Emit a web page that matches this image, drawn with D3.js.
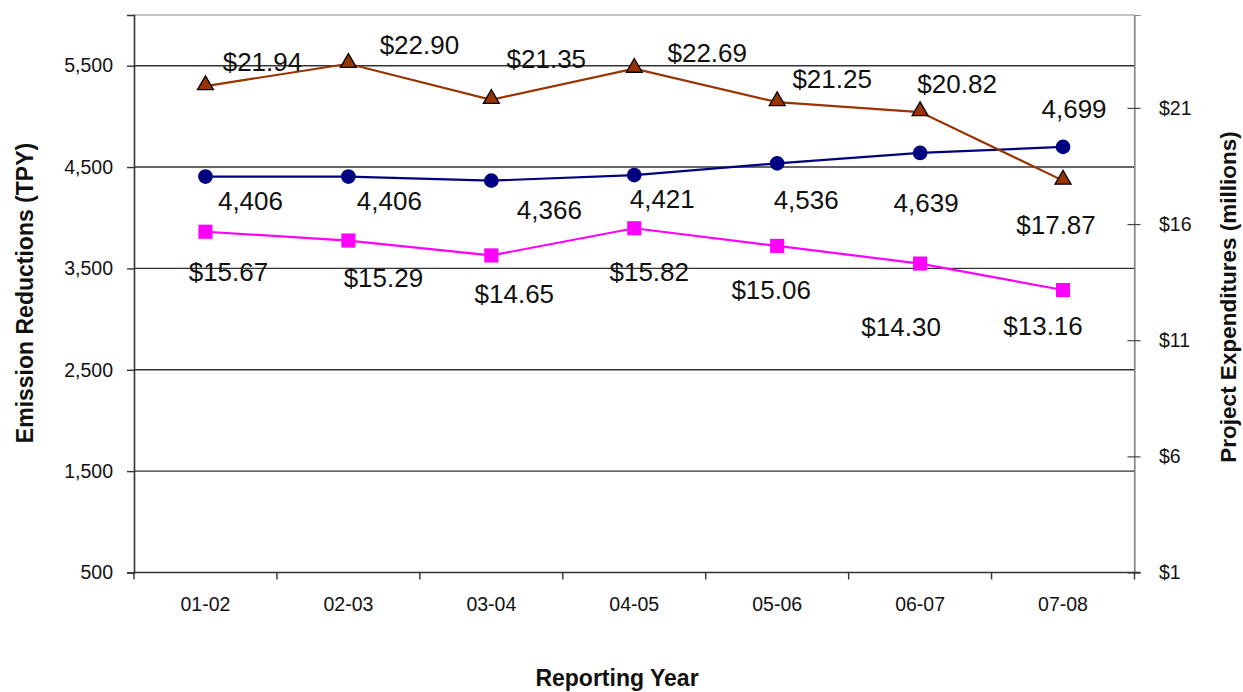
<!DOCTYPE html>
<html><head><meta charset="utf-8">
<script src="https://cdn.jsdelivr.net/npm/d3@7"></script>
<style>body{margin:0;background:#fff;} svg{display:block;font-family:"Liberation Sans",Arial,sans-serif;}</style>
</head><body>
<svg id="c" width="1243" height="692"></svg>
<script>
const categories = ["01-02","02-03","03-04","04-05","05-06","06-07","07-08"];
const emissions = [4406,4406,4366,4421,4536,4639,4699];           // left axis (TPY)
const expendHigh = [21.94,22.90,21.35,22.69,21.25,20.82,17.87];    // right axis ($M), brown triangles
const expendLow = [15.67,15.29,14.65,15.82,15.06,14.30,13.16];     // right axis ($M), pink squares
const leftTicks = [500,1500,2500,3500,4500,5500];
const rightTicks = [1,6,11,16,21];

// label placement offsets (layout only, px)
const offHigh = [[57,-24],[71,-19],[55,-41],[73,-16],[55,-23],[37,-28],[-7,44]];
const offEm = [[45,24],[41,24],[58,29],[28,24],[29,36],[6,50],[11,-38]];
const offLow = [[23,40],[35,37],[23,38],[15,43],[-6,44],[-19,63],[-20,36]];

const FONT = "Liberation Sans, Arial, sans-serif";
const svg = d3.select("#c");
const L = 134, R = 1134.5, T = 15, B = 572.5;

const x = d3.scaleBand().domain(categories).range([L, R]);
const yL = d3.scaleLinear().domain([500, 6000]).range([B, T]);
const yR = d3.scaleLinear().domain([1, 25]).range([B, T]);
const cx = c => x(c) + x.bandwidth() / 2;

// gridlines
svg.append("g").selectAll("line").data(leftTicks.slice(1)).join("line")
  .attr("x1", L).attr("x2", R).attr("y1", d => yL(d)).attr("y2", d => yL(d))
  .attr("stroke", "#333").attr("stroke-width", 1.4);

// top & right border
svg.append("line").attr("x1", L).attr("x2", R).attr("y1", T).attr("y2", T).attr("stroke", "#888").attr("stroke-width", 1.2);
svg.append("line").attr("x1", R).attr("x2", R).attr("y1", T).attr("y2", B).attr("stroke", "#888").attr("stroke-width", 1.2);

// left axis
const gl = svg.append("g").attr("transform", `translate(${L},0)`)
  .call(d3.axisLeft(yL).tickValues(leftTicks).tickSize(7).tickPadding(14).tickFormat(d3.format(",")));
gl.select(".domain").attr("stroke", "#333").attr("stroke-width", 1.6);
gl.selectAll(".tick line").attr("stroke", "#333").attr("stroke-width", 1.4);
gl.selectAll("text").attr("font-size", 19.5).attr("fill", "#111").attr("font-family", FONT);

// right axis
const gr = svg.append("g").attr("transform", `translate(${R},0)`)
  .call(d3.axisRight(yR).tickValues(rightTicks).tickSize(6).tickPadding(18.5).tickFormat(d => "$" + d));
gr.select(".domain").attr("stroke", "#888").attr("stroke-width", 1.2);
gr.selectAll(".tick line").attr("x1", -7).attr("x2", 6).attr("stroke", "#444").attr("stroke-width", 1.2);
gr.selectAll("text").attr("font-size", 19.5).attr("fill", "#111").attr("font-family", FONT);

// bottom axis with boundary ticks
const gb = svg.append("g").attr("transform", `translate(0,${B})`);
gb.append("line").attr("x1", L).attr("x2", R + 6).attr("stroke", "#333").attr("stroke-width", 1.6);
const bounds = categories.map(c => x(c)).concat([R]);
gb.selectAll("line.tk").data(bounds).join("line").attr("class", "tk")
  .attr("x1", d => d).attr("x2", d => d).attr("y1", 0).attr("y2", 7)
  .attr("stroke", "#333").attr("stroke-width", 1.4);
gb.selectAll("text").data(categories).join("text")
  .attr("x", d => cx(d)).attr("y", 38.5).attr("text-anchor", "middle")
  .attr("font-size", 19.5).attr("fill", "#111").text(d => d);

// axis titles
svg.append("text").attr("transform", "translate(33,293) rotate(-90)").attr("text-anchor", "middle")
  .attr("font-size", 23).attr("font-weight", "bold").attr("fill", "#111").text("Emission Reductions (TPY)");
svg.append("text").attr("transform", "translate(1236,297) rotate(-90)").attr("text-anchor", "middle")
  .attr("font-size", 22.5).attr("font-weight", "bold").attr("fill", "#111").text("Project Expenditures (millions)");
svg.append("text").attr("x", 617).attr("y", 686).attr("text-anchor", "middle")
  .attr("font-size", 23).attr("font-weight", "bold").attr("fill", "#111").text("Reporting Year");

// series
function series(vals, yScale, color, shape, offs, fmt) {
  const g = svg.append("g");
  g.append("path").datum(vals)
    .attr("d", d3.line().x((d, i) => cx(categories[i])).y(d => yScale(d)))
    .attr("fill", "none").attr("stroke", color).attr("stroke-width", 2.2);
  const sym = d3.symbol().type(shape.type).size(shape.size);
  g.selectAll("path.m").data(vals).join("path").attr("class", "m")
    .attr("transform", (d, i) => `translate(${cx(categories[i])},${yScale(d) + (shape.dy || 0)})`)
    .attr("d", sym).attr("fill", color)
    .attr("stroke", shape.stroke || "none").attr("stroke-width", shape.stroke ? 1.3 : 0);
  g.selectAll("text").data(vals).join("text")
    .attr("x", (d, i) => cx(categories[i]) + offs[i][0])
    .attr("y", (d, i) => yScale(d) + offs[i][1])
    .attr("dy", "0.36em").attr("text-anchor", "middle")
    .attr("font-size", 26).attr("fill", "#111").text(fmt);
}
series(expendLow, yR, "#ff00ff", {type: d3.symbolSquare, size: 200}, offLow, d => "$" + d.toFixed(2));
series(emissions, yL, "#000080", {type: d3.symbolCircle, size: 170}, offEm, d => d3.format(",")(d));
series(expendHigh, yR, "#993300", {type: d3.symbolTriangle, size: 110, stroke: "#000", dy: -1}, offHigh, d => "$" + d.toFixed(2));
</script>
</body></html>
